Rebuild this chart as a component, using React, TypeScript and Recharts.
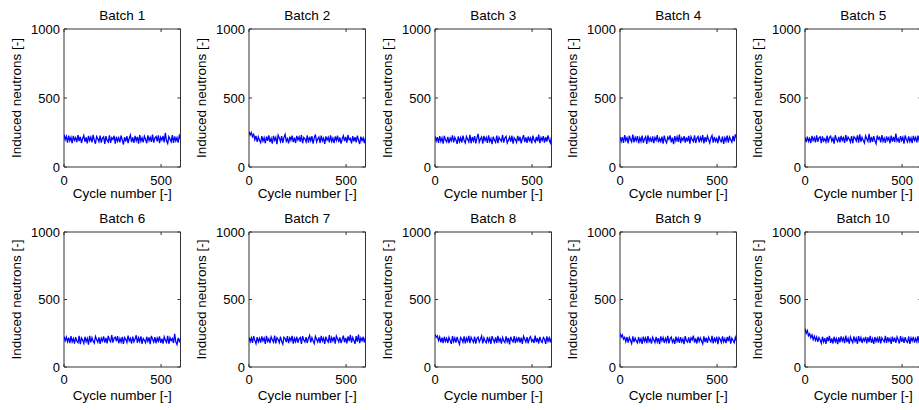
import React from "react";
import { LineChart, Line, XAxis, YAxis, ReferenceArea } from "recharts";

const BATCH_TITLES = ["Batch 1", "Batch 2", "Batch 3", "Batch 4", "Batch 5", "Batch 6", "Batch 7", "Batch 8", "Batch 9", "Batch 10"];
const X_TICKS = [0, 500];
const Y_TICKS = [0, 500, 1000];
const X_LABEL = "Cycle number [-]";
const Y_LABEL = "Induced neutrons [-]";
const CYCLE_STEP = 6;

const batch1 = [
  236,198,222,176,228,190,215,172,226,194,
  212,180,232,188,219,174,207,229,183,214,
  171,225,192,216,178,233,195,169,221,205,
  184,227,177,210,218,168,224,193,181,230,
  175,213,199,226,170,219,186,211,179,228,
  196,163,217,185,223,173,208,231,180,214,
  174,225,190,218,169,232,187,212,178,224,
  201,172,229,191,216,182,235,176,210,221,
  186,230,173,215,194,226,179,248,190,171,
  220,203,183,231,175,222,189,213,177,227,
  205,
];
const batch2 = [
  258,232,250,220,236,198,225,182,218,193,
  176,224,187,212,172,221,190,229,181,208,
  170,226,193,216,166,231,211,184,224,175,
  214,236,186,205,171,220,194,228,180,213,
  174,225,196,218,183,232,172,214,204,181,
  230,176,219,190,224,170,211,235,182,202,
  217,174,227,189,209,168,222,195,215,178,
  230,185,210,173,221,192,228,180,214,169,
  203,226,188,218,176,232,197,207,171,223,
  186,216,179,227,194,167,220,190,211,174,
  213,
];
const batch3 = [
  224,188,216,175,223,186,212,170,226,196,
  181,219,173,210,190,230,178,215,195,168,
  222,184,212,176,228,192,174,221,201,182,
  233,172,217,188,224,171,209,240,180,202,
  218,170,226,191,213,175,229,185,207,166,
  220,194,179,227,173,215,198,186,232,177,
  210,222,174,193,217,183,228,169,212,199,
  178,225,188,219,172,205,231,181,214,175,
  221,190,210,171,227,195,180,218,186,235,
  173,213,192,223,176,216,184,229,196,174,
  219,
];
const batch4 = [
  218,185,216,174,231,192,212,171,226,200,
  182,235,178,215,190,223,172,212,186,228,
  176,203,219,167,230,188,211,180,222,173,
  214,193,231,178,207,184,220,170,227,191,
  175,216,201,229,179,213,166,224,189,218,
  182,234,173,211,193,223,176,215,185,226,
  169,220,198,184,229,174,208,221,178,215,
  190,231,171,217,182,224,199,175,211,229,
  177,218,186,206,172,227,193,183,221,167,
  212,188,228,176,217,197,180,226,185,236,
  210,
];
const batch5 = [
  214,180,220,186,207,174,225,191,213,178,
  229,183,211,219,173,222,189,204,181,228,
  176,214,224,187,208,170,230,199,184,218,
  178,226,192,213,175,232,186,217,203,180,
  224,172,220,210,188,229,177,236,183,215,
  193,174,226,205,185,240,176,218,182,223,
  190,169,228,201,214,179,231,186,209,175,
  222,193,213,172,227,184,219,180,242,188,
  206,176,224,192,216,170,229,199,181,221,
  185,211,173,226,193,214,178,228,188,209,
  219,
];
const batch6 = [
  226,195,222,187,217,177,228,186,211,173,
  221,192,180,230,170,215,199,175,224,188,
  212,166,231,183,218,191,177,227,204,184,
  220,172,213,193,226,181,216,175,230,200,
  187,237,180,214,221,190,228,176,211,185,
  223,171,218,205,182,232,193,213,174,225,
  186,208,235,178,217,189,227,172,212,198,
  180,224,190,219,170,230,205,184,221,176,
  214,191,227,179,210,173,223,199,183,231,
  172,218,195,211,178,245,186,166,216,190,
  212,
];
const batch7 = [
  220,188,216,178,229,197,173,222,186,212,
  180,226,193,215,172,230,189,209,177,223,
  202,184,232,175,217,204,181,225,191,170,
  221,211,184,228,177,216,195,231,173,213,
  188,224,180,209,219,171,229,200,185,222,
  178,212,234,182,217,194,174,227,206,186,
  219,176,230,192,214,172,225,199,184,236,
  179,218,193,223,173,229,210,187,220,177,
  205,232,182,216,175,227,191,238,180,219,
  197,171,228,188,240,177,215,194,224,183,
  218,
];
const batch8 = [
  242,220,230,196,222,183,217,176,224,190,
  212,178,220,197,171,229,188,215,181,223,
  193,169,218,205,184,227,175,213,191,231,
  177,219,200,183,225,173,211,221,186,206,
  229,175,216,192,179,223,188,213,172,228,
  201,182,220,178,231,190,209,173,218,194,
  181,226,187,215,168,224,199,186,229,177,
  213,191,222,180,217,172,228,206,184,221,
  175,211,225,188,203,178,232,185,214,174,
  223,193,181,219,207,171,227,190,216,182,
  220,
];
const batch9 = [
  250,222,238,206,220,188,222,180,218,196,
  173,227,185,214,193,178,221,186,210,171,
  225,190,216,177,229,188,208,174,220,200,
  181,223,186,214,169,227,194,218,178,211,
  187,231,175,209,221,183,202,172,225,190,
  215,179,222,186,208,170,228,195,184,219,
  177,216,201,232,181,212,174,224,189,215,
  193,172,227,184,218,178,221,200,187,230,
  175,212,190,224,170,219,205,181,226,186,
  210,177,222,191,231,173,214,198,180,220,
  193,
];
const batch10 = [
  285,250,270,232,246,216,238,202,228,198,
  222,186,218,200,176,224,186,214,172,222,
  191,230,179,212,174,224,187,210,170,220,
  182,227,192,215,177,232,185,211,173,222,
  199,180,226,190,214,171,229,188,217,178,
  211,193,223,175,219,185,230,180,209,172,
  222,189,214,181,227,175,216,200,185,231,
  178,220,191,212,172,225,187,218,179,223,
  202,174,229,186,214,178,221,192,182,226,
  172,216,193,223,180,212,187,228,176,218,
  206,
];

const BATCHES = [batch1, batch2, batch3, batch4, batch5, batch6, batch7, batch8, batch9, batch10];

const FONT = "'Liberation Sans', Arial, Helvetica, sans-serif";
const AX = "#333";
const CW = 185;
const YW = 64;
const PW = 116.5;
const PLOT_LEFTS = [64, 249, 435, 620, 805];

const ROWS = [
  { top: 0, h: 200, plotTop: 29, plotBottom: 167, titleY: 20, xLabelY: 198, tickDy: 17.5 },
  { top: 200, h: 210, plotTop: 32, plotBottom: 167, titleY: 22.5, xLabelY: 200, tickDy: 17 },
];

const tickStyle: React.CSSProperties = { fontFamily: FONT, fontSize: 13, fill: "#000" };
const labelStyle: React.CSSProperties = { fontFamily: FONT, fontSize: 13.5, fill: "#000" };

function Panel({ idx }: { idx: number }) {
  const row = ROWS[Math.floor(idx / 5)];
  const col = idx % 5;
  const left = PLOT_LEFTS[col] - YW;
  const data = BATCHES[idx].map((v, i) => ({ cycle: i * CYCLE_STEP, value: v }));
  const plotLeft = YW;
  const plotRight = YW + PW;
  const cx = plotLeft + PW / 2;
  const cy = (row.plotTop + row.plotBottom) / 2;

  const xTick = (p: any) => {
    const { x, payload } = p;
    return (
      <g>
        <line x1={x} x2={x} y1={row.plotBottom} y2={row.plotBottom - 3} stroke={AX} />
        <line x1={x} x2={x} y1={row.plotTop} y2={row.plotTop + 3} stroke={AX} />
        <text x={x} y={row.plotBottom + row.tickDy} textAnchor="middle" style={tickStyle}>
          {payload.value}
        </text>
      </g>
    );
  };
  const yTick = (p: any) => {
    const { y, payload } = p;
    return (
      <g>
        <line x1={plotLeft} x2={plotLeft + 3} y1={y} y2={y} stroke={AX} />
        <line x1={plotRight - 3} x2={plotRight} y1={y} y2={y} stroke={AX} />
        <text x={plotLeft - 4} y={y + 4.5} textAnchor="end" style={tickStyle}>
          {payload.value}
        </text>
      </g>
    );
  };

  return (
    <div style={{ position: "absolute", left, top: row.top, width: CW, height: row.h }}>
      <LineChart
        width={CW}
        height={row.h}
        data={data}
        margin={{ top: row.plotTop, right: CW - YW - PW, bottom: 0, left: 0 }}
      >
        <XAxis
          dataKey="cycle"
          type="number"
          domain={[0, 600]}
          ticks={X_TICKS}
          interval={0}
          height={row.h - row.plotBottom}
          axisLine={false}
          tickLine={false}
          tick={xTick}
          allowDataOverflow
        />
        <YAxis
          type="number"
          domain={[0, 1000]}
          ticks={Y_TICKS}
          interval={0}
          width={YW}
          axisLine={false}
          tickLine={false}
          tick={yTick}
          allowDataOverflow
        />
        <ReferenceArea x1={0} x2={600} y1={0} y2={1000} fill="none" stroke={AX} strokeWidth={1} ifOverflow="visible" />
        <Line
          type="linear"
          dataKey="value"
          stroke="#0000ff"
          strokeWidth={1.3}
          dot={false}
          activeDot={false}
          isAnimationActive={false}
        />
      </LineChart>
      <svg
        width={CW}
        height={row.h + 10}
        style={{ position: "absolute", left: 0, top: 0, pointerEvents: "none", overflow: "visible" }}
      >
        <text x={cx} y={row.titleY} textAnchor="middle" style={labelStyle}>
          {BATCH_TITLES[idx]}
        </text>
        <text x={cx} y={row.xLabelY} textAnchor="middle" style={labelStyle}>
          {X_LABEL}
        </text>
        <text x={21} y={cy} textAnchor="middle" transform={`rotate(-90, 21, ${cy})`} style={labelStyle}>
          {Y_LABEL}
        </text>
      </svg>
    </div>
  );
}

export default function App() {
  return (
    <div
      style={{
        position: "absolute",
        left: 0,
        top: 0,
        width: 919,
        height: 410,
        overflow: "hidden",
        background: "#fff",
      }}
    >
      {BATCHES.map((_, i) => (
        <Panel key={i} idx={i} />
      ))}
    </div>
  );
}
